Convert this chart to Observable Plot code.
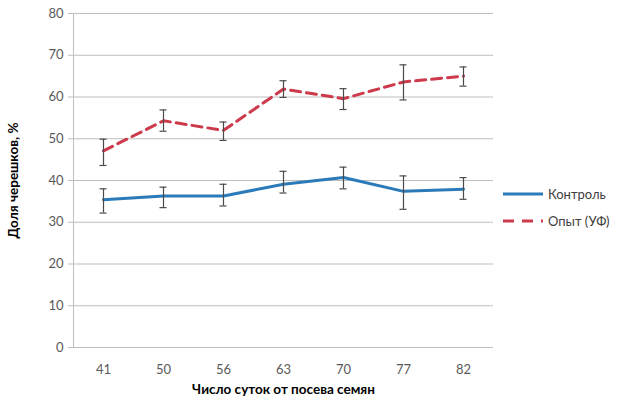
<!DOCTYPE html>
<html>
<head>
<meta charset="utf-8">
<script src="https://cdn.jsdelivr.net/npm/d3@7"></script>
<script src="https://cdn.jsdelivr.net/npm/@observablehq/plot@0.6"></script>
<style>
  body { margin: 0; background: #fff; }
  #wrap { position: relative; width: 619px; height: 404px; font-family: Lato, "Open Sans", sans-serif; }
  #wrap svg { font-family: Lato, "Open Sans", sans-serif; }
  g[aria-label="y-axis label"] text, g[aria-label="x-axis label"] text { fill: #000; font-weight: bold; font-size: 13.5px; }
  .legend { position: absolute; left: 502px; font-size: 13px; color: #404040; display: flex; align-items: center; }
  .legend svg { margin-right: 4px; }
</style>
</head>
<body>
<div id="wrap"></div>
<script>
const days = ["41", "50", "56", "63", "70", "77", "82"];
const seriesNames = ["Контроль", "Опыт (УФ)"];
const control     = [35.4, 36.3, 36.3, 39.1, 40.7, 37.4, 37.9];
const controlLow  = [32.2, 33.5, 33.9, 37.0, 38.0, 33.1, 35.5];
const controlHigh = [38.0, 38.4, 39.1, 42.2, 43.2, 41.1, 40.7];
const uv          = [47.1, 54.3, 52.0, 61.9, 59.6, 63.6, 65.0];
const uvLow       = [43.6, 51.8, 49.6, 59.9, 57.0, 59.3, 62.6];
const uvHigh      = [49.9, 56.9, 54.0, 63.9, 62.0, 67.7, 67.2];
const yTicks = [0, 10, 20, 30, 40, 50, 60, 70, 80];
const xTitle = "Число суток от посева семян";
const yTitle = "Доля черешков, %";
const colors = ["#2b7bba", "#cc3a4b"];

const rows = [
  ...days.map((d, i) => ({day: d, series: seriesNames[0], value: control[i], low: controlLow[i], high: controlHigh[i]})),
  ...days.map((d, i) => ({day: d, series: seriesNames[1], value: uv[i], low: uvLow[i], high: uvHigh[i]}))
];
const ctrlRows = rows.filter(r => r.series === seriesNames[0]);
const uvRows = rows.filter(r => r.series === seriesNames[1]);

const grey = "#bfbfbf";
const errStyle = {stroke: "#4a4a4a", strokeWidth: 1.2};
const capInset = 26.5;

const chart = Plot.plot({
  width: 619,
  height: 404,
  marginLeft: 73,
  marginRight: 126,
  marginTop: 13,
  marginBottom: 57,
  style: {background: "#fff", overflow: "visible"},
  x: {type: "band", domain: days, padding: 0},
  y: {domain: [0, 80]},
  marks: [
    Plot.gridY(yTicks, {stroke: grey, strokeOpacity: 1, strokeWidth: 1}),
    Plot.frame({anchor: "left", stroke: grey}),
    Plot.axisY(yTicks, {tickSize: 5, stroke: grey, fill: "#595959", fontSize: 13, tickPadding: 5,
      label: yTitle, labelAnchor: "center", labelArrow: "none", labelOffset: 65}),
    Plot.axisX({tickSize: 0, tickPadding: 17, fill: "#595959", fontSize: 13,
      label: xTitle, labelAnchor: "center", labelArrow: "none", labelOffset: 46}),
    Plot.line(ctrlRows, {x: "day", y: "value", stroke: colors[0], strokeWidth: 3}),
    Plot.line(uvRows, {x: "day", y: "value", stroke: colors[1], strokeWidth: 3, strokeDasharray: "10,6"}),
    Plot.ruleX(rows, {x: "day", y1: "low", y2: "high", ...errStyle}),
    Plot.tickY(rows, {x: "day", y: "low", insetLeft: capInset, insetRight: capInset, ...errStyle}),
    Plot.tickY(rows, {x: "day", y: "high", insetLeft: capInset, insetRight: capInset, ...errStyle})
  ]
});

const wrap = document.getElementById("wrap");
wrap.appendChild(chart);

function legendItem(name, color, dash, top) {
  const div = document.createElement("div");
  div.className = "legend";
  div.style.top = top + "px";
  div.innerHTML = `<svg width="42" height="6"><line x1="1" x2="41" y1="3" y2="3" stroke="${color}" stroke-width="3" ${dash ? 'stroke-dasharray="11,8"' : ""}/></svg><span>${name}</span>`;
  wrap.appendChild(div);
}
legendItem(seriesNames[0], colors[0], false, 186);
legendItem(seriesNames[1], colors[1], true, 213);
</script>
</body>
</html>
